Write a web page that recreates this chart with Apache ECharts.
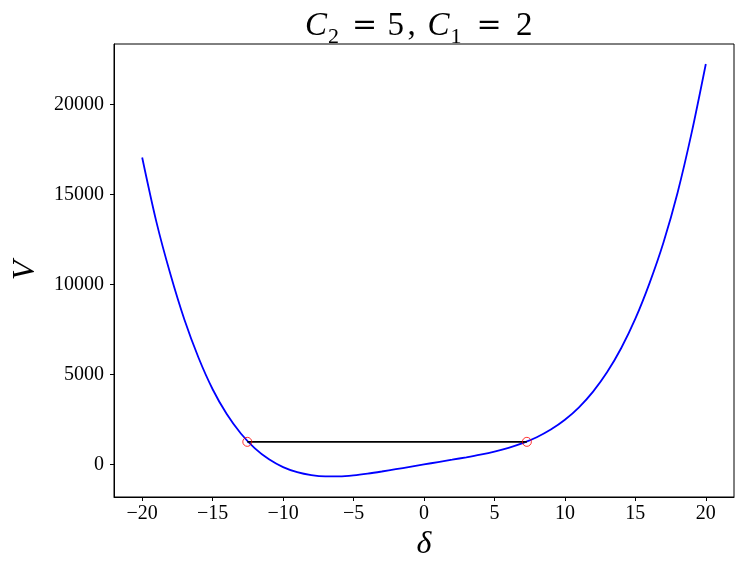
<!DOCTYPE html>
<html>
<head>
<meta charset="utf-8">
<script src="https://cdn.jsdelivr.net/npm/echarts@6/dist/echarts.min.js"></script>
<style>
  html, body { margin: 0; padding: 0; background: #fff; }
  #chart { width: 743px; height: 576px; }
</style>
</head>
<body>
<div id="chart"></div>
<script>
// values
const deltaVals = [-20, -19, -18, -17, -16, -15, -14, -13, -12, -11, -10, -9, -8, -7, -6, -5, -4, -3, -2, -1,
  0, 1, 2, 3, 4, 5, 6, 7, 8, 9, 10, 11, 12, 13, 14, 15, 16, 17, 18, 19, 20]
const vVals = [17060, 13510, 10580, 8040, 5930, 4180, 2800, 1720, 894, 282, -150, -433, -596, -664, -660, -603, -509, -393, -265, -133,
  0, 131, 263, 398, 546, 716, 922, 1181, 1511, 1936, 2480, 3173, 4045, 5132, 6470, 8100, 10066, 12350, 15120, 18457, 22260]
// equal-V points joined by the black line
const chordDelta = [-12.54, 7.30]
const chordV = [1256, 1256]
const xTicks = [-20, -15, -10, -5, 0, 5, 10, 15, 20]
const yTicks = [0, 5000, 10000, 15000, 20000]

const serif = 'Liberation Serif'
const curve = deltaVals.map((d, i) => [d, vVals[i]])
const chord = chordDelta.map((d, i) => [d, chordV[i]])

let myChart = echarts.init(document.getElementById('chart'), null, { renderer: 'canvas' })

const mainTxt = { fontFamily: serif, fontSize: 33, fontWeight: 'normal', lineHeight: 44, color: '#000' }
const subTxt = { fontFamily: serif, fontSize: 22, fontWeight: 'normal', lineHeight: 24, verticalAlign: 'bottom', color: '#000' }
const eqTxt = Object.assign({}, mainTxt, { fontFamily: 'DejaVu Serif', fontSize: 30 })

myChart.setOption({
  animation: false,
  backgroundColor: '#fff',
  title: {
    left: 305,
    top: 4,
    padding: 0,
    text: '{c|C}{s1|2}{eq|=}{v1|5}{cm|,}{c2|C}{s2|1}{eq2|=}{v2|2}',
    textStyle: {
      fontWeight: 'normal',
      rich: {
        c: Object.assign({}, mainTxt, { fontStyle: 'italic', width: 23 }),
        s1: Object.assign({}, subTxt, { width: 24 }),
        eq: Object.assign({}, eqTxt, { width: 35.5 }),
        v1: Object.assign({}, mainTxt, { width: 20 }),
        cm: Object.assign({}, mainTxt, { width: 20 }),
        c2: Object.assign({}, mainTxt, { fontStyle: 'italic', width: 23 }),
        s2: Object.assign({}, subTxt, { width: 26 }),
        eq2: Object.assign({}, eqTxt, { width: 39.6 }),
        v2: Object.assign({}, mainTxt, { width: 24 })
      }
    }
  },
  grid: {
    left: 114,
    right: 9,
    top: 44,
    bottom: 79,
    show: true,
    borderColor: '#000',
    borderWidth: 1
  },
  xAxis: {
    type: 'value',
    min: -22,
    max: 22,
    name: 'δ',
    nameLocation: 'middle',
    nameGap: 30,
    nameTextStyle: { fontFamily: serif, fontStyle: 'italic', fontSize: 32, color: '#000' },
    axisLine: { show: true, onZero: false, lineStyle: { color: '#000', width: 1 } },
    axisTick: { show: true, length: 4, lineStyle: { color: '#000' }, customValues: xTicks },
    axisLabel: {
      customValues: xTicks,
      margin: 7,
      fontFamily: serif,
      fontSize: 20,
      color: '#000',
      formatter: v => (v < 0 ? '\u2212' + Math.abs(v) : String(v))
    },
    splitLine: { show: false }
  },
  yAxis: {
    type: 'value',
    min: -1810,
    max: 23370,
    name: 'V',
    nameLocation: 'middle',
    nameRotate: 90,
    nameGap: 72,
    nameTextStyle: { fontFamily: serif, fontStyle: 'italic', fontSize: 32, color: '#000' },
    axisLine: { show: true, onZero: false, lineStyle: { color: '#000', width: 1 } },
    axisTick: { show: true, length: 4, lineStyle: { color: '#000' }, customValues: yTicks },
    axisLabel: {
      customValues: yTicks,
      margin: 10,
      fontFamily: serif,
      fontSize: 20,
      color: '#000',
      formatter: v => String(v)
    },
    splitLine: { show: false }
  },
  series: [
    {
      name: 'V',
      type: 'line',
      data: curve,
      smooth: 0.3,
      showSymbol: false,
      lineStyle: { color: '#0000ff', width: 1.8 },
      z: 2
    },
    {
      name: 'chord',
      type: 'line',
      data: chord,
      showSymbol: false,
      lineStyle: { color: '#000', width: 1.8 },
      z: 3
    },
    {
      name: 'points',
      type: 'scatter',
      data: chord,
      symbol: 'circle',
      symbolSize: 9,
      itemStyle: { color: 'rgba(0,0,0,0)', borderColor: '#ff0000', borderWidth: 1 },
      z: 4
    }
  ]
})
</script>
</body>
</html>
